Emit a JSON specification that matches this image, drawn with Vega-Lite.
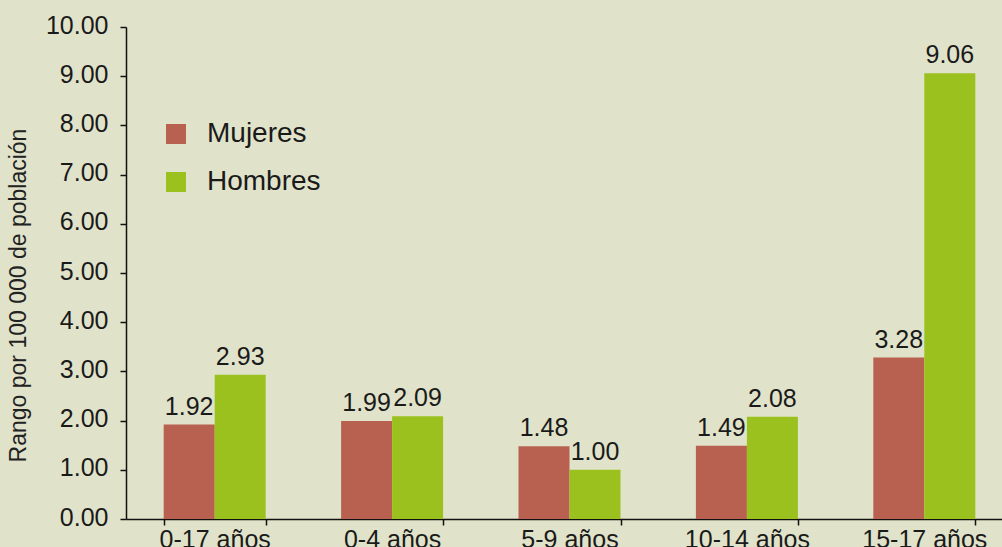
{
  "$schema": "https://vega.github.io/schema/vega-lite/v6.json",
  "autosize": "none",
  "width": 876,
  "height": 492,
  "padding": {"left": 126, "top": 27, "right": 0, "bottom": 28},
  "background": "#e0e3c9",
  "config": {
    "view": {"stroke": null},
    "font": "Liberation Sans",
    "axis": {"labelFont": "Liberation Sans", "titleFont": "Liberation Sans"},
    "legend": {"labelFont": "Liberation Sans"}
  },
  "data": {
    "values": [
      {"grupo": "0-17 años", "sexo": "Mujeres", "valor": 1.92},
      {"grupo": "0-17 años", "sexo": "Hombres", "valor": 2.93},
      {"grupo": "0-4 años", "sexo": "Mujeres", "valor": 1.99},
      {"grupo": "0-4 años", "sexo": "Hombres", "valor": 2.09},
      {"grupo": "5-9 años", "sexo": "Mujeres", "valor": 1.48},
      {"grupo": "5-9 años", "sexo": "Hombres", "valor": 1.00},
      {"grupo": "10-14 años", "sexo": "Mujeres", "valor": 1.49},
      {"grupo": "10-14 años", "sexo": "Hombres", "valor": 2.08},
      {"grupo": "15-17 años", "sexo": "Mujeres", "valor": 3.28},
      {"grupo": "15-17 años", "sexo": "Hombres", "valor": 9.06}
    ]
  },
  "encoding": {
    "x": {
      "field": "grupo",
      "type": "nominal",
      "sort": null,
      "scale": {"range": [0, 887], "paddingInner": 0.425, "paddingOuter": 0.2125},
      "axis": {
        "title": null,
        "labelAngle": 0,
        "labelFontSize": 25,
        "labelColor": "#1a1a1a",
        "labelPadding": 2,
        "tickBand": "extent",
        "tickSize": 6,
        "tickColor": "#111111",
        "tickWidth": 1.5,
        "domainColor": "#111111",
        "domainWidth": 1.5
      }
    },
    "xOffset": {"field": "sexo", "type": "nominal", "sort": ["Mujeres", "Hombres"], "scale": {"paddingInner": 0, "paddingOuter": 0}},
    "y": {
      "field": "valor",
      "type": "quantitative",
      "scale": {"domain": [0, 10], "nice": false},
      "axis": {
        "title": "Rango por 100 000 de población",
        "titleFontSize": 23,
        "titleFontWeight": "normal",
        "titleColor": "#222222",
        "titleAngle": -90,
        "titleX": -108,
        "titleY": 268,
        "titleAlign": "center",
        "titleBaseline": "middle",
        "values": [0, 1, 2, 3, 4, 5, 6, 7, 8, 9, 10],
        "format": ".2f",
        "labelFontSize": 25,
        "labelColor": "#1a1a1a",
        "labelPadding": 12,
        "labelOffset": -2,
        "tickSize": 6,
        "tickColor": "#111111",
        "tickWidth": 1.5,
        "domainColor": "#111111",
        "domainWidth": 1.5,
        "grid": false
      }
    }
  },
  "layer": [
    {
      "mark": {"type": "bar"},
      "encoding": {
        "color": {
          "field": "sexo",
          "type": "nominal",
          "sort": ["Mujeres", "Hombres"],
          "scale": {"domain": ["Mujeres", "Hombres"], "range": ["#b86150", "#9bc11e"]},
          "legend": {
            "title": null,
            "orient": "none",
            "legendX": 36,
            "legendY": 93,
            "symbolType": "square",
            "symbolSize": 400,
            "symbolStrokeWidth": 0,
            "symbolOpacity": 1,
            "labelFontSize": 28,
            "labelColor": "#1a1a1a",
            "labelOffset": 17,
            "rowPadding": 20,
            "padding": 0
          }
        }
      }
    },
    {
      "mark": {"type": "text", "baseline": "alphabetic", "dy": -10, "fontSize": 25, "color": "#1a1a1a"},
      "encoding": {
        "text": {"field": "valor", "type": "quantitative", "format": ".2f"}
      }
    }
  ]
}
